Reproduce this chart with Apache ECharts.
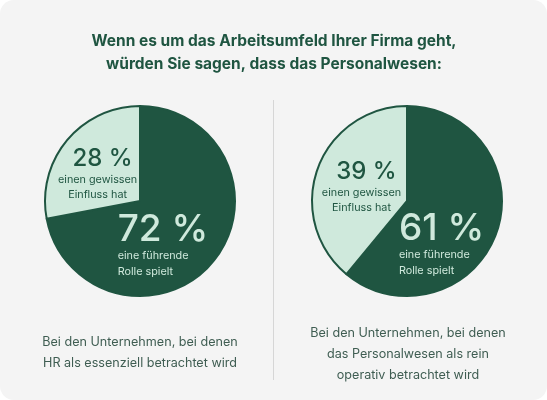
<!DOCTYPE html>
<html>
<head>
<meta charset="utf-8">
<script src="https://cdn.jsdelivr.net/npm/echarts@6/dist/echarts.min.js"></script>
<style>
  html, body { margin: 0; padding: 0; background: #ffffff; }
  #chart { width: 547px; height: 400px; background: #f4f4f4; border-radius: 14px; }
</style>
</head>
<body>
<div id="chart"></div>
<script>
// Daten
var titleLines = ['Wenn es um das Arbeitsumfeld Ihrer Firma geht,', 'würden Sie sagen, dass das Personalwesen:'];
var sliceNames = ['eine führende\nRolle spielt', 'einen gewissen\nEinfluss hat'];
var leftValues = [72, 28];   // HR als essenziell
var rightValues = [61, 39];  // HR als rein operativ
var leftCaption = ['Bei den Unternehmen, bei denen', 'HR als essenziell betrachtet wird'];
var rightCaption = ['Bei den Unternehmen, bei denen', 'das Personalwesen als rein', 'operativ betrachtet wird'];

var dark = '#1f5541';
var light = '#cfe9dc';
var font = 'Inter, "Noto Sans", sans-serif';

var myChart = echarts.init(document.getElementById('chart'), null, { renderer: 'canvas' });

function lbl(value, name, big, onDark, offset) {
    var c = onDark ? light : dark;
    return {
        show: true,
        position: 'inside',
        offset: offset,
        formatter: '{big|' + value + ' %}\n' + name.split('\n').map(function (s) { return '{small|' + s + '}'; }).join('\n'),
        rich: {
            big: { fontFamily: font, fontSize: big, fontWeight: 500, color: c, lineHeight: onDark ? 37 : 26,
                   align: onDark ? 'left' : 'center', padding: onDark ? 0 : [0, 0, 0, 10] },
            small: { fontFamily: font, fontSize: 10.8, color: c, lineHeight: 15.5, align: onDark ? 'left' : 'center' }
        }
    };
}

function pieSeries(values, center, offsets) {
    return {
        type: 'pie',
        center: center,
        radius: [0, 95],
        startAngle: 90,
        clockwise: true,
        silent: true,
        avoidLabelOverlap: false,
        labelLayout: { hideOverlap: false },
        emphasis: { disabled: true },
        labelLine: { show: false },
        itemStyle: { borderColor: dark, borderWidth: 2 },
        data: [
            { value: values[0], name: sliceNames[0], itemStyle: { color: dark },
              label: lbl(values[0], sliceNames[0], 37, true, offsets[0]) },
            { value: values[1], name: sliceNames[1], itemStyle: { color: light },
              label: lbl(values[1], sliceNames[1], 24, false, offsets[1]) }
        ]
    };
}

function captionTexts(lines, x, y0) {
    return lines.map(function (s, i) {
        return {
            type: 'text', x: x, y: y0 + i * 21,
            style: { text: s, font: '12.6px ' + font, fill: '#3f5d52', align: 'center', verticalAlign: 'middle' }
        };
    });
}

myChart.setOption({
    animation: false,
    graphic: [].concat(
        titleLines.map(function (s, i) {
            return {
                type: 'text', x: 274, y: 41 + i * 23,
                style: { text: s, font: 'bold 15.5px ' + font, fill: dark, align: 'center', verticalAlign: 'middle' }
            };
        }),
        [{ type: 'line', shape: { x1: 273.5, y1: 100, x2: 273.5, y2: 380 }, style: { stroke: '#d6d6d6', lineWidth: 1 } }],
        captionTexts(leftCaption, 140, 342),
        captionTexts(rightCaption, 408, 333)
    ),
    series: [
        pieSeries(leftValues, [140, 201], [[-16, 12], [-3.5, 5.5]]),
        pieSeries(rightValues, [407, 201], [[-13, 26], [2, 3.5]])
    ]
});
</script>
</body>
</html>
